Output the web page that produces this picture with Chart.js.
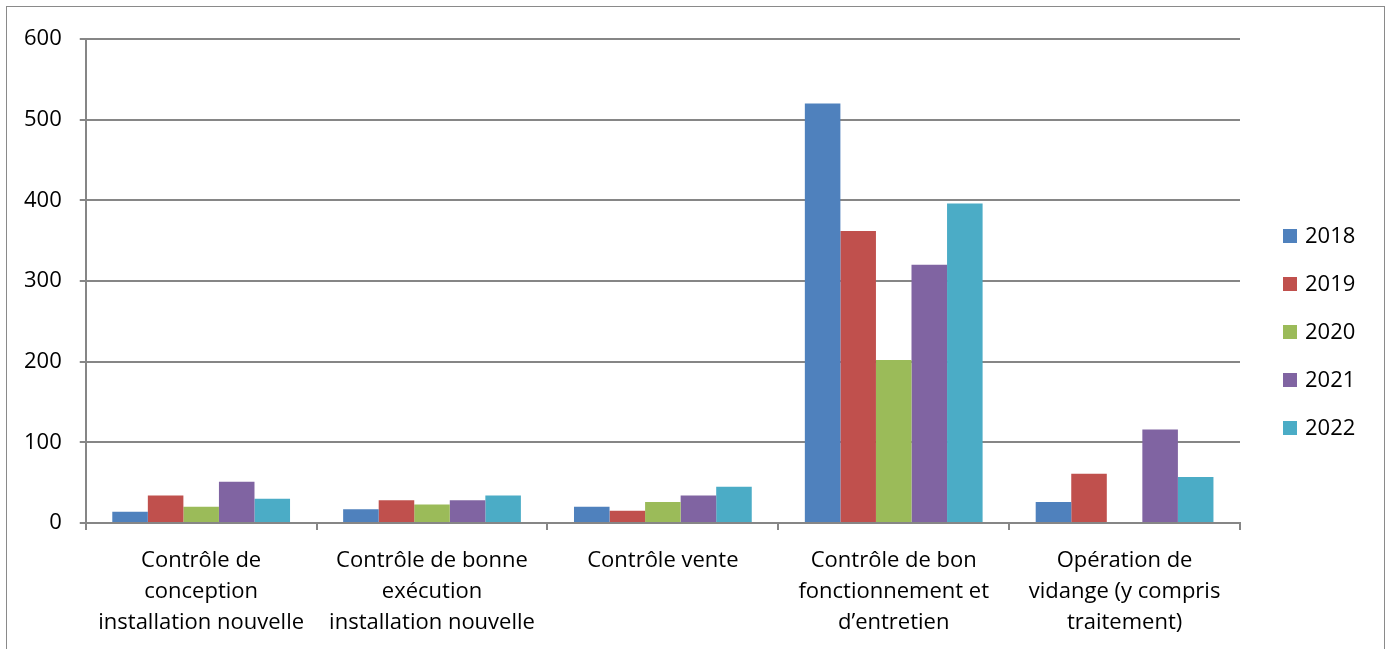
<!DOCTYPE html>
<html>
<head>
<meta charset="utf-8">
<script src="https://cdn.jsdelivr.net/npm/chart.js@4/dist/chart.umd.min.js"></script>
<style>
  body { margin: 0; background: #fff; }
  #wrap { position: relative; width: 1389px; height: 649px; overflow: hidden; }
  #frame { position: absolute; left: 6px; top: 6px; width: 1379px; height: 700px; border: 1px solid #8a8a8a; box-sizing: border-box; }
  canvas { position: absolute; left: 0; top: 0; }
</style>
</head>
<body>
<div id="wrap">
  <div id="frame"></div>
  <canvas id="chart" width="1389" height="649"></canvas>
</div>
<script>
// Chart values
const categories = [
    ['Contrôle de', 'conception', 'installation nouvelle'],
    ['Contrôle de bonne', 'exécution', 'installation nouvelle'],
    ['Contrôle vente'],
    ['Contrôle de bon', 'fonctionnement et', 'd’entretien'],
    ['Opération de', 'vidange (y compris', 'traitement)']
];
const years = ['2018', '2019', '2020', '2021', '2022'];
const values2018 = [14, 17, 20, 520, 26];
const values2019 = [34, 28, 15, 362, 61];
const values2020 = [20, 23, 26, 202, 0];
const values2021 = [51, 28, 34, 320, 116];
const values2022 = [30, 34, 45, 396, 57];
const colors = ['#4F81BD', '#C0504D', '#9BBB59', '#8064A2', '#4BACC6'];

const fontFamily = '"Open Sans", "Liberation Sans", sans-serif';
const gridColor = '#868686';

// Simple legend drawn on the right, one item under the other
const sideLegend = {
    id: 'sideLegend',
    afterDraw(chart) {
        const ctx = chart.ctx;
        const x = 1283;
        const startY = 236;
        const step = 48;
        ctx.save();
        ctx.font = '22px ' + fontFamily;
        ctx.textBaseline = 'middle';
        chart.data.datasets.forEach((ds, i) => {
            const y = startY + i * step;
            ctx.fillStyle = ds.backgroundColor;
            ctx.fillRect(x, y - 7, 14, 14);
            ctx.fillStyle = '#000';
            ctx.fillText(ds.label, x + 22, y + 1);
        });
        ctx.restore();
    }
};

const seriesValues = [values2018, values2019, values2020, values2021, values2022];

let ctx = document.getElementById('chart').getContext('2d');
new Chart(ctx, {
    type: 'bar',
    data: {
        labels: categories,
        datasets: years.map((y, i) => ({
            label: y,
            data: seriesValues[i],
            backgroundColor: colors[i],
            borderWidth: 0,
            categoryPercentage: 0.77,
            barPercentage: 1.0
        }))
    },
    options: {
        responsive: false,
        animation: false,
        layout: {
            // tick padding is counted twice in axis size, hence the odd numbers
            padding: { left: 6, right: 149, top: 39, bottom: -4 }
        },
        plugins: {
            legend: { display: false },
            tooltip: { enabled: false }
        },
        scales: {
            x: {
                afterFit(scale) {
                    scale.paddingLeft = 0;
                    scale.paddingRight = 0;
                },
                grid: {
                    offset: true,
                    drawOnChartArea: false,
                    drawTicks: true,
                    tickLength: 7,
                    color: gridColor,
                    lineWidth: 2
                },
                border: { color: gridColor, width: 2 },
                ticks: {
                    color: '#000',
                    padding: 15,
                    maxRotation: 0,
                    autoSkip: false,
                    font: { family: fontFamily, size: 22, lineHeight: 1.41 }
                }
            },
            y: {
                min: 0,
                max: 600,
                ticks: {
                    stepSize: 100,
                    color: '#000',
                    padding: 18,
                    font: { family: fontFamily, size: 22 }
                },
                grid: {
                    color: gridColor,
                    lineWidth: 2,
                    tickLength: 6
                },
                border: { color: gridColor, width: 2 }
            }
        }
    },
    plugins: [sideLegend]
});
</script>
</body>
</html>
